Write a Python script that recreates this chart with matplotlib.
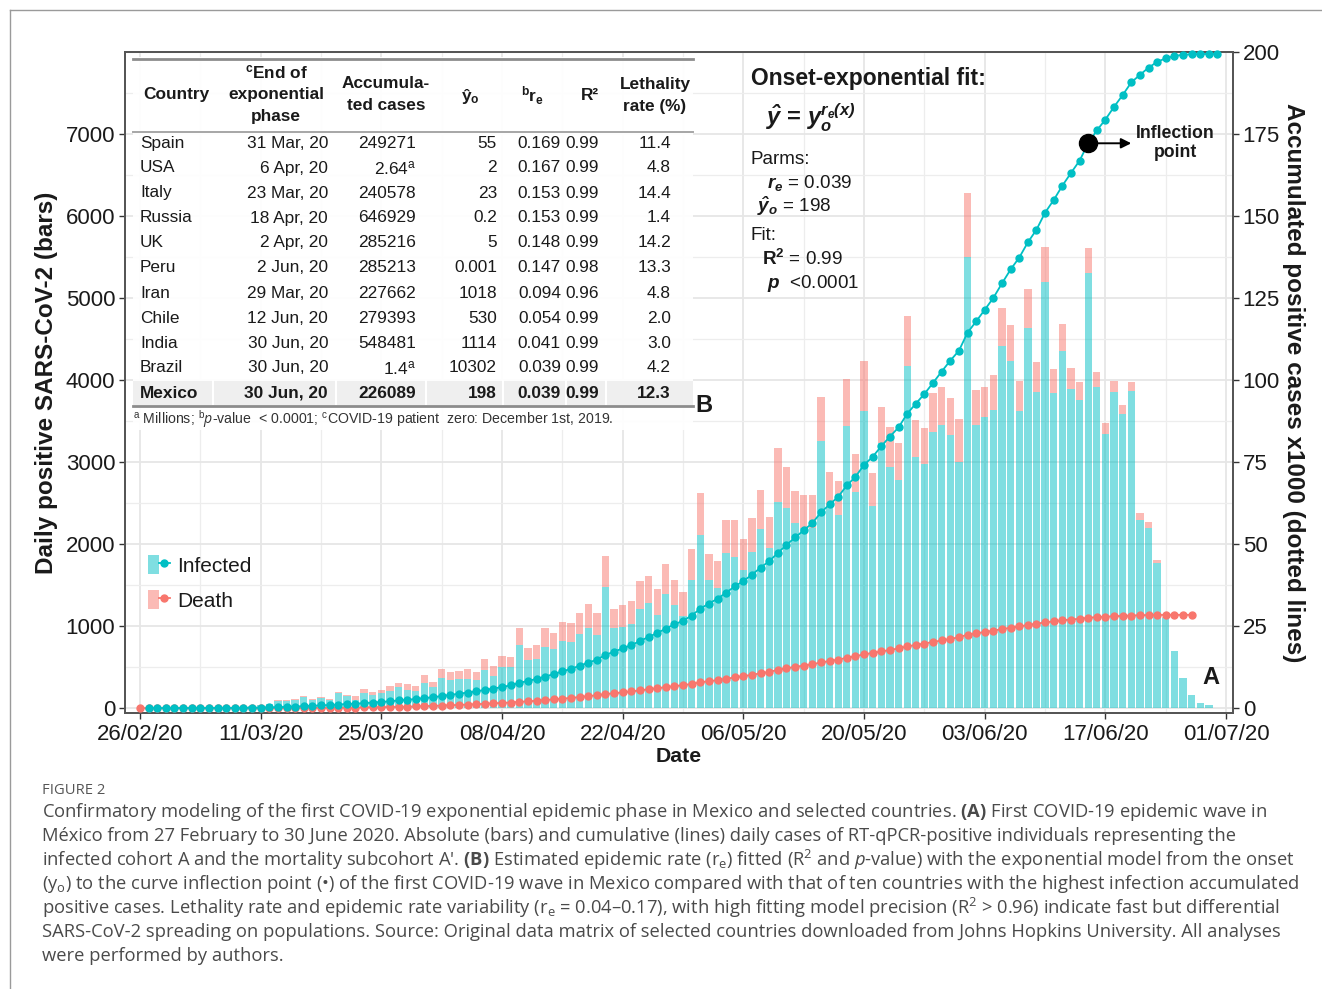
import numpy as np
import matplotlib
matplotlib.use('Agg')
import matplotlib.pyplot as plt
from matplotlib.ticker import MultipleLocator, FixedLocator
from matplotlib.patches import Rectangle, Patch
from matplotlib.lines import Line2D
from matplotlib.legend_handler import HandlerTuple

plt.rcParams['font.family'] = ['Liberation Sans', 'DejaVu Sans']
plt.rcParams['mathtext.fontset'] = 'custom'
plt.rcParams['mathtext.rm'] = 'Open Sans'
plt.rcParams['mathtext.it'] = 'Open Sans:italic'
plt.rcParams['mathtext.bf'] = 'Open Sans:bold'
plt.rcParams['mathtext.bfit'] = 'Liberation Sans:italic:bold'
plt.rcParams['mathtext.sf'] = 'Liberation Sans:bold'

# ---------------- data ----------------
# day index: 0 = 26/02/20 ... 125 = 30/06/20
day_index = np.arange(0, 126)
infected = [0,
            1, 0, 1, 2, 3, 2, 5, 6, 8, 10, 15, 20, 30, 40, 55,
            88, 86, 95, 136, 95, 120, 93, 179, 143,
            103, 184, 156, 184, 213, 257, 217, 205, 306, 253, 363, 347, 359, 359, 347, 461, 387, 497, 497, 765, 585,
            599, 745, 725, 823, 806, 903, 977, 887, 1477, 977, 989, 1030, 1213, 1282, 1140, 1396, 1261, 1127, 1558, 2115,
            1561, 1468, 1887, 1846, 1683, 1907, 2183, 1947, 2517, 2443, 2252, 2191, 2191, 3257, 2435, 2354, 3443,
            2639, 3626, 2468, 3228, 2943, 2777, 4175, 3065, 2972, 3370, 3452, 3330, 3004,
            5500, 3451, 3545, 3634, 4420, 4230, 3626, 4640, 3858, 5200, 3846, 4358, 3886, 3756, 5300, 3910, 3341, 3860,
            3585, 3866, 2293, 2199, 1764, 1100, 700, 362, 159, 65, 37, 5]
deaths = [0,
          0, 0, 0, 0, 0, 0, 0, 0, 0, 0, 0, 0, 0, 0, 0,
          10, 8, 10, 10, 10, 10, 12, 12, 15,
          43, 44, 35, 36, 55, 52, 72, 67, 96, 68, 113, 96, 92, 113, 96, 133, 125, 141, 125, 207, 150,
          169, 227, 193, 230, 227, 252, 291, 268, 377, 230, 267, 279, 336, 328, 307, 360, 300, 292, 377, 503,
          317, 328, 406, 447, 374, 406, 476, 386, 650, 500, 394, 407, 407, 540, 447, 418, 565,
          459, 606, 402, 447, 479, 459, 610, 447, 438, 476, 467, 455, 520,
          780, 427, 375, 427, 460, 440, 366, 470, 366, 425, 284, 322, 256, 224, 310, 191, 139, 130,
          110, 114, 81, 65, 41, 10, 0, 0, 0, 0, 0, 0]
inflection_day = 110

date_tick_days = [0, 14, 28, 42, 56, 70, 84, 98, 112, 126]
date_tick_labels = ['26/02/20', '11/03/20', '25/03/20', '08/04/20', '22/04/20',
                    '06/05/20', '20/05/20', '03/06/20', '17/06/20', '01/07/20']

countries = ['Spain', 'USA', 'Italy', 'Russia', 'UK', 'Peru', 'Iran', 'Chile', 'India', 'Brazil', 'Mexico']
end_dates = ['31 Mar, 20', '6 Apr, 20', '23 Mar, 20', '18 Apr, 20', '2 Apr, 20', '2 Jun, 20',
             '29 Mar, 20', '12 Jun, 20', '30 Jun, 20', '30 Jun, 20', '30 Jun, 20']
accum_cases = ['249271', r'2.64$^\mathregular{a}$', '240578', '646929', '285216', '285213',
               '227662', '279393', '548481', r'1.4$^\mathregular{a}$', '226089']
y0_vals = ['55', '2', '23', '0.2', '5', '0.001', '1018', '530', '1114', '10302', '198']
re_vals = ['0.169', '0.167', '0.153', '0.153', '0.148', '0.147', '0.094', '0.054', '0.041', '0.039', '0.039']
r2_vals = ['0.99', '0.99', '0.99', '0.99', '0.99', '0.98', '0.96', '0.99', '0.99', '0.99', '0.99']
lethality = ['11.4', '4.8', '14.4', '1.4', '14.2', '13.3', '4.8', '2.0', '3.0', '4.2', '12.3']

caption_lines = [
    r"Confirmatory modeling of the first COVID-19 exponential epidemic phase in Mexico and selected countries. $\mathbf{(A)}$ First COVID-19 epidemic wave in",
    r"México from 27 February to 30 June 2020. Absolute (bars) and cumulative (lines) daily cases of RT-qPCR-positive individuals representing the",
    r"infected cohort A and the mortality subcohort A'. $\mathbf{(B)}$ Estimated epidemic rate (r$_\mathregular{e}$) fitted (R$^\mathregular{2}$ and $\mathit{p}$-value) with the exponential model from the onset",
    r"(y$_\mathregular{o}$) to the curve inflection point (•) of the first COVID-19 wave in Mexico compared with that of ten countries with the highest infection accumulated",
    r"positive cases. Lethality rate and epidemic rate variability (r$_\mathregular{e}$ = 0.04–0.17), with high fitting model precision (R$^\mathregular{2}$ > 0.96) indicate fast but differential",
    r"SARS-CoV-2 spreading on populations. Source: Original data matrix of selected countries downloaded from Johns Hopkins University. All analyses",
    r"were performed by authors.",
]

# ---------------- derived ----------------
infected = np.array(infected, dtype=float)
deaths = np.array(deaths, dtype=float)
cum_inf_all = np.cumsum(infected) / 1000.0
cum_death_all = np.cumsum(deaths) / 1000.0
x_inf = day_index[1:]
cum_inf = cum_inf_all[1:]
x_death = day_index[:123]
cum_death = cum_death_all[:123]

CYAN = '#00BFC4'
RED = '#F8766D'
TXT = '#1a1a1a'

W, H = 1322, 989
fig = plt.figure(figsize=(W / 100, H / 100), dpi=100)


def fx(x):
    return x / W


def fy(y):
    return 1 - y / H


def ftext(x, y, s, **kw):
    kw.setdefault('color', TXT)
    return fig.text(fx(x), fy(y), s, **kw)


# outer frame
fig.add_artist(Line2D([fx(10), fx(10)], [fy(10), fy(989)], color='#9a9a9a', lw=1.0, transform=fig.transFigure))
fig.add_artist(Line2D([fx(10), fx(1322)], [fy(10), fy(10)], color='#9a9a9a', lw=1.0, transform=fig.transFigure))

# ---------------- main axes ----------------
ax = fig.add_axes([fx(125), fy(713), (1233 - 125) / W, (713 - 52) / H])
ax.bar(day_index, infected, width=0.85, color=CYAN, alpha=0.5, linewidth=0, zorder=2)
ax.bar(day_index, deaths, bottom=infected, width=0.85, color=RED, alpha=0.5, linewidth=0, zorder=2)
ax.set_xlim(-1.74, 126.8)
ax.set_ylim(-60, 8000)
ax.set_axisbelow(True)
ax.xaxis.set_major_locator(FixedLocator(date_tick_days))
ax.set_xticklabels(date_tick_labels)
ax.xaxis.set_minor_locator(MultipleLocator(7))
ax.yaxis.set_major_locator(FixedLocator(np.arange(0, 7001, 1000)))
ax.yaxis.set_minor_locator(MultipleLocator(500))
ax.grid(which='major', color='#E6E6E6', lw=1.3)
ax.grid(which='minor', color='#EDEDED', lw=0.9)
ax.tick_params(which='minor', length=0)
ax.tick_params(which='major', length=4, width=1, color='#333333', labelsize=16, labelcolor=TXT, pad=3)
ax.tick_params(axis='x', pad=4)

ax2 = ax.twinx()
ax2.set_ylim(-60 / 40, 200)
ax2.yaxis.set_major_locator(FixedLocator(np.arange(0, 201, 25)))
ax2.tick_params(which='major', length=4, width=1, color='#333333', labelsize=16, labelcolor=TXT, pad=3)
ax2.plot(x_death, cum_death, color=RED, lw=1.3, marker='o', ms=5, zorder=3, clip_on=False)
ax2.plot(x_inf, cum_inf, color=CYAN, lw=1.3, marker='o', ms=5, zorder=4, clip_on=False)
ax2.plot([inflection_day], [cum_inf_all[inflection_day]], 'o', color='black', ms=13, zorder=5)
ax2.annotate('', xy=(inflection_day, cum_inf_all[inflection_day]), xytext=(31, 0),
             textcoords='offset points',
             arrowprops=dict(arrowstyle='<|-,head_length=0.6,head_width=0.3', color='black', lw=1.4,
                             shrinkA=0, shrinkB=6), zorder=5)
ax2.annotate('Inflection\npoint', xy=(inflection_day, cum_inf_all[inflection_day]), xytext=(63, 0),
             textcoords='offset points', ha='center', va='center', multialignment='center',
             fontsize=12.7, fontweight='bold', color=TXT, linespacing=1.15)

for a in (ax, ax2):
    for sp in a.spines.values():
        sp.set_color('#555555')
        sp.set_linewidth(1.3)

ax.set_ylabel('Daily positive SARS-CoV-2 (bars)', fontsize=17.5, fontweight='bold', color=TXT)
ax.yaxis.label.set_va('center')
ax.yaxis.set_label_coords((47 - 125) / 1108, 0.5)
ax2.set_ylabel('Accumulated positive cases x1000 (dotted lines)', fontsize=17.5, fontweight='bold',
               color=TXT, rotation=270)
ax2.yaxis.label.set_va('center')
ax2.yaxis.set_label_coords((1294 - 125) / 1108, 0.5)
ax.set_xlabel('Date', fontsize=15.3, fontweight='bold', color=TXT)
ax.xaxis.label.set_va('center')
ax.xaxis.set_label_coords(0.5, (713 - 756) / 661)

# legend
h_inf = (Patch(facecolor=CYAN, alpha=0.5, linewidth=0), Line2D([], [], color=CYAN, lw=1.3, marker='o', ms=5))
h_dea = (Patch(facecolor=RED, alpha=0.5, linewidth=0), Line2D([], [], color=RED, lw=1.3, marker='o', ms=5))
leg = ax2.legend([h_inf, h_dea], ['Infected', 'Death'], handler_map={tuple: HandlerTuple(ndivide=None)},
                 loc='upper left', bbox_to_anchor=(fx(148), fy(555)), bbox_transform=fig.transFigure,
                 frameon=False, fontsize=15, handlelength=1.05, handleheight=1.05, labelspacing=0.68,
                 handletextpad=0.35, borderpad=0, borderaxespad=0, numpoints=1)
for t in leg.get_texts():
    t.set_color(TXT)

# panel letters
ftext(1211, 678, 'A', fontsize=17, fontweight='bold', ha='center', va='center')
ftext(704, 406, 'B', fontsize=17, fontweight='bold', ha='center', va='center')

# fit annotation
ftext(751, 78, 'Onset-exponential fit:', fontsize=16.5, fontweight='bold', va='center')
ftext(766, 118, r'$\mathbfit{\hat{y}}$ = $\mathbfit{y_o^{r_e(x)}}$', fontsize=17, fontweight='bold', va='center')
ftext(751, 160, 'Parms:', fontsize=13.6, va='center')
ftext(767, 183, r'$\mathbfit{r_e}$ = 0.039', fontsize=13.6, va='center')
ftext(757, 206, r'$\mathbfit{\hat{y}_o}$ = 198', fontsize=13.6, va='center')
ftext(751, 236, 'Fit:', fontsize=13.6, va='center')
ftext(762, 259, r'$\mathsf{R^2}$ = 0.99', fontsize=13.6, va='center')
ftext(767, 283, r'$\mathbfit{p}$  <0.0001', fontsize=13.6, va='center')

# ---------------- table ----------------
fig.add_artist(Rectangle((fx(133), fy(430)), fx(693) - fx(133), fy(57) - fy(430), transform=fig.transFigure,
                         facecolor='white', alpha=0.93, edgecolor='none', zorder=2))
fig.add_artist(Rectangle((fx(133), fy(405)), fx(693) - fx(133), fy(381) - fy(405), transform=fig.transFigure,
                         facecolor='#EFEFEF', edgecolor='none', zorder=2.1))
for xs in (213, 336, 426, 503, 566, 606):
    fig.add_artist(Line2D([fx(xs), fx(xs)], [fy(405), fy(381)], color='white', lw=1.5,
                          transform=fig.transFigure, zorder=2.2))
for yy, lw, c in ((59, 2.0, '#8c8c8c'), (132, 1.4, '#a6a6a6'), (406, 2.0, '#8c8c8c')):
    fig.add_artist(Line2D([fx(133), fx(693)], [fy(yy), fy(yy)], color=c, lw=lw,
                          transform=fig.transFigure, zorder=2.3))

TFS = 12.4
ftext(176, 95, 'Country', fontsize=TFS, fontweight='bold', ha='center', va='center')
ftext(276, 72, r'$^\mathregular{c}$End of', fontsize=TFS, fontweight='bold', ha='center', va='center')
ftext(276, 95, 'exponential', fontsize=TFS, fontweight='bold', ha='center', va='center')
ftext(276, 117, 'phase', fontsize=TFS, fontweight='bold', ha='center', va='center')
ftext(386, 84, 'Accumula-', fontsize=TFS, fontweight='bold', ha='center', va='center')
ftext(386, 106, 'ted cases', fontsize=TFS, fontweight='bold', ha='center', va='center')
ftext(470, 96, r'ŷ$_\mathregular{o}$', fontsize=TFS, fontweight='bold', ha='center', va='center')
ftext(533, 96, r'$^\mathregular{b}$r$_\mathregular{e}$', fontsize=TFS, fontweight='bold', ha='center', va='center')
ftext(590, 96, 'R²', fontsize=TFS, fontweight='bold', ha='center', va='center')
ftext(655, 84, 'Lethality', fontsize=TFS, fontweight='bold', ha='center', va='center')
ftext(655, 106, 'rate (%)', fontsize=TFS, fontweight='bold', ha='center', va='center')

for i, c in enumerate(countries):
    y = 143 + 25 * i
    w = 'bold' if c == 'Mexico' else 'normal'
    kw = dict(fontsize=TFS, fontweight=w, va='center', zorder=3)
    ftext(140, y, c, ha='left', **kw)
    ftext(328, y, end_dates[i], ha='right', **kw)
    ftext(416, y, accum_cases[i], ha='right', **kw)
    ftext(497, y, y0_vals[i], ha='right', **kw)
    ftext(561, y, re_vals[i], ha='right', **kw)
    ftext(599, y, r2_vals[i], ha='right', **kw)
    ftext(671, y, lethality[i], ha='right', **kw)

ftext(133, 419, r'$^\mathregular{a}$ Millions; $^\mathregular{b}$$\mathit{p}$-value  < 0.0001; $^\mathregular{c}$COVID-19 patient  zero: December 1st, 2019.',
      fontsize=10.15, va='center', color='#333333')

# ---------------- caption ----------------
ftext(42, 790, 'FIGURE 2', fontsize=10.6, family=['Open Sans', 'DejaVu Sans'], color='#555555', va='center')
for i, line in enumerate(caption_lines):
    ftext(42, 812 + 24 * i, line, fontsize=13.25, family=['Open Sans', 'DejaVu Sans'], color='#4a4a4a',
          va='center')

fig.savefig('out.png', dpi=100)
